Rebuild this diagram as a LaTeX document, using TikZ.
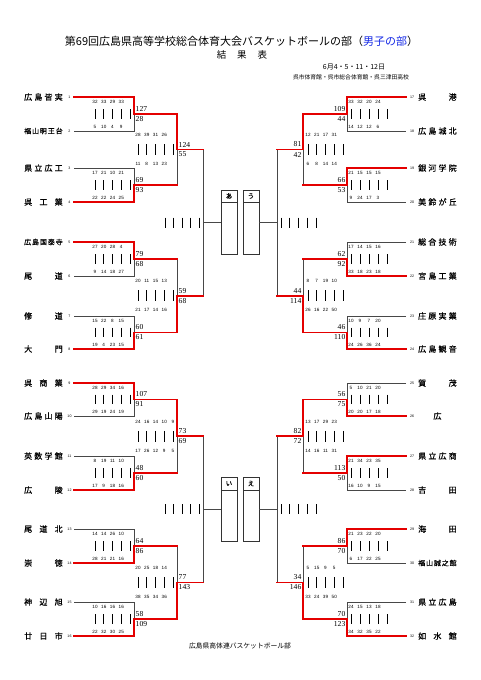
\documentclass[tikz,border=0pt]{standalone}
\usepackage{fontspec}
\setmainfont{Liberation Sans}
\newfontfamily\jp{Noto Sans CJK JP}
\newfontfamily\jpb{Noto Sans CJK JP}[FakeBold=0.6]
\newfontfamily\srf{Liberation Serif}
\definecolor{bred}{RGB}{228,0,0}
\definecolor{tblue}{RGB}{20,40,230}
\pgfdeclarelayer{fg}
\pgfsetlayers{main,fg}
\tikzset{
  blk/.style={draw=black!72, line width=0.8pt},
  win/.style={draw=bred, line width=1.9pt, line cap=rect, line join=miter},
  bar/.style={draw=black, line width=0.75pt},
  qn/.style={font=\fontsize{4.6}{5}\selectfont, inner sep=0pt},
  sc/.style={font=\srf\fontsize{7.6}{8}\selectfont, inner sep=0pt},
  seed/.style={font=\fontsize{3.6}{4}\selectfont, inner sep=0pt},
  tn/.style={font=\jpb\fontsize{8}{8}\selectfont, inner sep=0pt, anchor=west},
  tnf/.style={font=\jpb\fontsize{7}{7}\selectfont, inner sep=0pt, anchor=west},
  boxst/.style={draw=black!80, line width=0.7pt, minimum width=16pt, minimum height=64pt, inner sep=0pt},
  hdr/.style={font=\jpb\fontsize{6.5}{7}\selectfont, inner sep=0pt},
}
\newcommand{\jn}[1]{\makebox[38.5pt][s]{#1}}
\newcommand{\HF}{\hfill}
% left round 1: id, ytop, ybot, ywin, topQ, botQ, topS, botS
\newcommand{\RoneL}[8]{%
  \pgfmathsetmacro\yM{(#2+#3)/2}%
  \draw[blk] (74,#2) -- (134,#2) -- (134,#3) -- (74,#3);
  \begin{pgfonlayer}{fg}
  \draw[win] (74,#4) -- (134,#4) -- (134,\yM) -- (177,\yM);
  \end{pgfonlayer}
  \foreach \i in {0,...,4} \draw[bar] (95+\i*8.75,\yM-4.8) -- (95+\i*8.75,\yM+4.8);
  \foreach \q [count=\i from 0] in {#5} \node[qn] (#1t\i) at (95+\i*8.75,#2+4.5) {\q};
  \foreach \q [count=\i from 0] in {#6} \node[qn] (#1b\i) at (95+\i*8.75,#3-4.5) {\q};
  \node[sc,anchor=west] (#1s1) at (135.5,\yM-5) {#7};
  \node[sc,anchor=west] (#1s2) at (135.5,\yM+5) {#8};
}
\newcommand{\RoneR}[8]{%
  \pgfmathsetmacro\yM{(#2+#3)/2}%
  \draw[blk] (406,#2) -- (347,#2) -- (347,#3) -- (406,#3);
  \begin{pgfonlayer}{fg}
  \draw[win] (406,#4) -- (347,#4) -- (347,\yM) -- (303,\yM);
  \end{pgfonlayer}
  \foreach \i in {0,...,4} \draw[bar] (351+\i*9,\yM-4.8) -- (351+\i*9,\yM+4.8);
  \foreach \q [count=\i from 0] in {#5} \node[qn] (#1t\i) at (351+\i*9,#2+4.5) {\q};
  \foreach \q [count=\i from 0] in {#6} \node[qn] (#1b\i) at (351+\i*9,#3-4.5) {\q};
  \node[sc,anchor=east] (#1s1) at (345.5,\yM-5) {#7};
  \node[sc,anchor=east] (#1s2) at (345.5,\yM+5) {#8};
}
\newcommand{\RtwoL}[8]{%
  \pgfmathsetmacro\yM{(#2+#3)/2}%
  \draw[blk] (177,#2) -- (177,#3);
  \begin{pgfonlayer}{fg}
  \draw[win] (177,#4) -- (177,\yM) -- (203,\yM);
  \end{pgfonlayer}
  \foreach \i in {0,...,4} \draw[bar] (138+\i*8.75,\yM-5.5) -- (138+\i*8.75,\yM+5.5);
  \foreach \q [count=\i from 0] in {#5} \node[qn] (#1t\i) at (138+\i*8.75,\yM-14.5) {\q};
  \foreach \q [count=\i from 0] in {#6} \node[qn] (#1b\i) at (138+\i*8.75,\yM+14.5) {\q};
  \node[sc,anchor=west] (#1s1) at (178.5,\yM-5) {#7};
  \node[sc,anchor=west] (#1s2) at (178.5,\yM+5) {#8};
}
\newcommand{\RtwoR}[8]{%
  \pgfmathsetmacro\yM{(#2+#3)/2}%
  \draw[blk] (303,#2) -- (303,#3);
  \begin{pgfonlayer}{fg}
  \draw[win] (303,#4) -- (303,\yM) -- (277,\yM);
  \end{pgfonlayer}
  \foreach \i in {0,...,4} \draw[bar] (308+\i*8.75,\yM-5.5) -- (308+\i*8.75,\yM+5.5);
  \foreach \q [count=\i from 0] in {#5} \node[qn] (#1t\i) at (308+\i*8.75,\yM-14.5) {\q};
  \foreach \q [count=\i from 0] in {#6} \node[qn] (#1b\i) at (308+\i*8.75,\yM+14.5) {\q};
  \node[sc,anchor=east] (#1s1) at (301.5,\yM-5) {#7};
  \node[sc,anchor=east] (#1s2) at (301.5,\yM+5) {#8};
}
\begin{document}
\begin{tikzpicture}[x=1pt,y=-1pt]
\useasboundingbox (0,0) rectangle (481,680);
\fill[white] (0,0) rectangle (481,680);

% header
\node[font=\jp\fontsize{11}{12}\selectfont, inner sep=0pt] (title) at (241.5,41)
  {第69回広島県高等学校総合体育大会バスケットボールの部（\textcolor{tblue}{男子の部}）};
\node[font=\jp\fontsize{9.5}{10}\selectfont, inner sep=0pt] (sub) at (242,55)
  {結\hspace{11pt}果\hspace{11pt}表};
\node[font=\jp\fontsize{7}{8}\selectfont, inner sep=0pt] (date) at (354,67)
  {6月4・5・11・12日};
\node[font=\jp\fontsize{5.8}{6}\selectfont, inner sep=0pt] (venue) at (351,77)
  {呉市体育館・呉市総合体育館・呉三津田高校};
\node[font=\jp\fontsize{6.8}{7}\selectfont, inner sep=0pt] (foot) at (240,646)
  {広島県高体連バスケットボール部};

% team names left
\node[tn]  (t1)  at (24,97)  {\jn{広\HF{}島\HF{}皆\HF{}実}};
\node[tnf] (t2)  at (24,131) {\jn{福\HF{}山\HF{}明\HF{}王\HF{}台}};
\node[tn]  (t3)  at (24,168) {\jn{県\HF{}立\HF{}広\HF{}工}};
\node[tn]  (t4)  at (24,202) {\jn{呉\HF{}工\HF{}業}};
\node[tnf] (t5)  at (24,242) {\jn{広\HF{}島\HF{}国\HF{}泰\HF{}寺}};
\node[tn]  (t6)  at (24,276) {\jn{尾\HF{}道}};
\node[tn]  (t7)  at (24,316) {\jn{修\HF{}道}};
\node[tn]  (t8)  at (24,349) {\jn{大\HF{}門}};
\node[tn]  (t9)  at (24,383) {\jn{呉\HF{}商\HF{}業}};
\node[tn]  (t10) at (24,416) {\jn{広\HF{}島\HF{}山\HF{}陽}};
\node[tn]  (t11) at (24,456) {\jn{英\HF{}数\HF{}学\HF{}館}};
\node[tn]  (t12) at (24,490) {\jn{広\HF{}陵}};
\node[tn]  (t13) at (24,529) {\jn{尾\HF{}道\HF{}北}};
\node[tn]  (t14) at (24,563) {\jn{崇\HF{}徳}};
\node[tn]  (t15) at (24,602) {\jn{神\HF{}辺\HF{}旭}};
\node[tn]  (t16) at (24,636) {\jn{廿\HF{}日\HF{}市}};
% team names right
\node[tn]  (t17) at (418,97)  {\jn{呉\HF{}港}};
\node[tn]  (t18) at (418,131) {\jn{広\HF{}島\HF{}城\HF{}北}};
\node[tn]  (t19) at (418,168) {\jn{銀\HF{}河\HF{}学\HF{}院}};
\node[tn]  (t20) at (418,202) {\jn{美\HF{}鈴\HF{}が\HF{}丘}};
\node[tn]  (t21) at (418,242) {\jn{総\HF{}合\HF{}技\HF{}術}};
\node[tn]  (t22) at (418,276) {\jn{宮\HF{}島\HF{}工\HF{}業}};
\node[tn]  (t23) at (418,316) {\jn{庄\HF{}原\HF{}実\HF{}業}};
\node[tn]  (t24) at (418,349) {\jn{広\HF{}島\HF{}観\HF{}音}};
\node[tn]  (t25) at (418,383) {\jn{賀\HF{}茂}};
\node[tn]  (t26) at (418,416) {\jn{\HF{}広\HF{}}};
\node[tn]  (t27) at (418,456) {\jn{県\HF{}立\HF{}広\HF{}商}};
\node[tn]  (t28) at (418,490) {\jn{吉\HF{}田}};
\node[tn]  (t29) at (418,529) {\jn{海\HF{}田}};
\node[tnf] (t30) at (418,563) {\jn{福\HF{}山\HF{}誠\HF{}之\HF{}館}};
\node[tn]  (t31) at (418,602) {\jn{県\HF{}立\HF{}広\HF{}島}};
\node[tn]  (t32) at (418,636) {\jn{如\HF{}水\HF{}館}};

% seeds
\foreach \n/\y in {1/97,2/131,3/168,4/202,5/242,6/276,7/316,8/349,9/383,10/416,11/456,12/490,13/529,14/563,15/602,16/636}
  \node[seed] (s\n) at (69.5,\y) {\n};
\foreach \n/\y in {17/97,18/131,19/168,20/202,21/242,22/276,23/316,24/349,25/383,26/416,27/456,28/490,29/529,30/563,31/602,32/636}
  \node[seed] (s\n) at (412,\y) {\n};

% round 1 left
\RoneL{mA}{97}{131}{97}{32,33,29,33}{5,10,4,9}{127}{28}
\RoneL{mB}{168}{202}{202}{17,21,10,21}{22,22,24,25}{69}{93}
\RoneL{mC}{242}{276}{242}{27,20,28,4}{9,14,18,27}{79}{68}
\RoneL{mD}{316}{349}{349}{15,22,8,15}{19,4,23,15}{60}{61}
\RoneL{mE}{383}{416}{383}{28,29,34,16}{29,19,24,19}{107}{91}
\RoneL{mF}{456}{490}{490}{8,19,11,10}{17,9,18,16}{48}{60}
\RoneL{mG}{529}{563}{563}{14,14,26,10}{28,21,21,16}{64}{86}
\RoneL{mH}{602}{636}{636}{10,16,16,16}{22,32,30,25}{58}{109}
% round 2 left
\RtwoL{nA}{114}{185}{114}{28,39,31,26}{11,8,13,23}{124}{55}
\RtwoL{nB}{259}{332.5}{332.5}{20,11,15,13}{21,17,14,16}{59}{68}
\RtwoL{nC}{399.5}{473}{399.5}{24,16,14,10,9}{17,26,12,9,5}{73}{69}
\RtwoL{nD}{546}{619}{619}{20,25,18,14}{38,35,34,36}{77}{143}
% round 1 right
\RoneR{mI}{97}{131}{97}{33,32,20,24}{14,12,12,6}{109}{44}
\RoneR{mJ}{168}{202}{168}{21,15,15,15}{9,24,17,3}{66}{53}
\RoneR{mK}{242}{276}{276}{17,14,15,16}{33,18,23,18}{62}{92}
\RoneR{mL}{316}{349}{349}{10,9,7,20}{24,26,36,24}{46}{110}
\RoneR{mM}{383}{416}{416}{5,10,21,20}{20,20,17,18}{56}{75}
\RoneR{mN}{456}{490}{456}{21,34,23,35}{16,10,9,15}{113}{50}
\RoneR{mO}{529}{563}{529}{21,23,22,20}{6,17,22,25}{86}{70}
\RoneR{mP}{602}{636}{636}{24,15,13,18}{34,32,35,22}{70}{123}
% round 2 right
\RtwoR{nE}{114}{185}{114}{12,21,17,31}{6,8,14,14}{81}{42}
\RtwoR{nF}{259}{332.5}{332.5}{8,7,19,10}{26,16,22,50}{44}{114}
\RtwoR{nG}{399.5}{473}{399.5}{13,17,29,23}{14,16,11,31}{82}{72}
\RtwoR{nH}{546}{619}{619}{5,15,9,5}{33,24,39,50}{34}{146}

% semifinal boxes
\node[boxst] (bA) at (229,222) {};
\node[boxst] (bU) at (251,222) {};
\node[boxst] (bI) at (229,509.5) {};
\node[boxst] (bE) at (251,509.5) {};
\draw[draw=black!80, line width=0.7pt] (221,202) -- (237,202) (243,202) -- (259,202)
  (221,490) -- (237,490) (243,490) -- (259,490);
\node[hdr] (hA) at (229,196) {あ};
\node[hdr] (hU) at (251,196) {う};
\node[hdr] (hI) at (229,483.5) {い};
\node[hdr] (hE) at (251,483.5) {え};

% round 3 frames
\coordinate (vLa1) at (203,149.5);  \coordinate (vLa2) at (203,295.75);
\coordinate (vLb1) at (203,436.25); \coordinate (vLb2) at (203,582.5);
\coordinate (vRa1) at (277,149.5);  \coordinate (vRa2) at (277,295.75);
\coordinate (vRb1) at (277,436.25); \coordinate (vRb2) at (277,582.5);
\coordinate (cLa) at (203,222.6); \coordinate (cLb) at (203,509.4);
\coordinate (cRa) at (277,222.6); \coordinate (cRb) at (277,509.4);
\draw[blk] (vLa1) -- (vLa2) (vLb1) -- (vLb2) (vRa1) -- (vRa2) (vRb1) -- (vRb2);
\draw[blk] (cLa) -- (cLa -| bA.west) (cLb) -- (cLb -| bI.west)
           (cRa) -- (cRa -| bU.east) (cRb) -- (cRb -| bE.east);
\foreach \yy in {222.6,509.4} {
  \foreach \i in {0,...,4} {
    \draw[bar] (165+\i*8.5,\yy-5) -- (165+\i*8.5,\yy+5);
    \draw[bar] (281+\i*8.75,\yy-5) -- (281+\i*8.75,\yy+5);
  }
}
\end{tikzpicture}
\end{document}
